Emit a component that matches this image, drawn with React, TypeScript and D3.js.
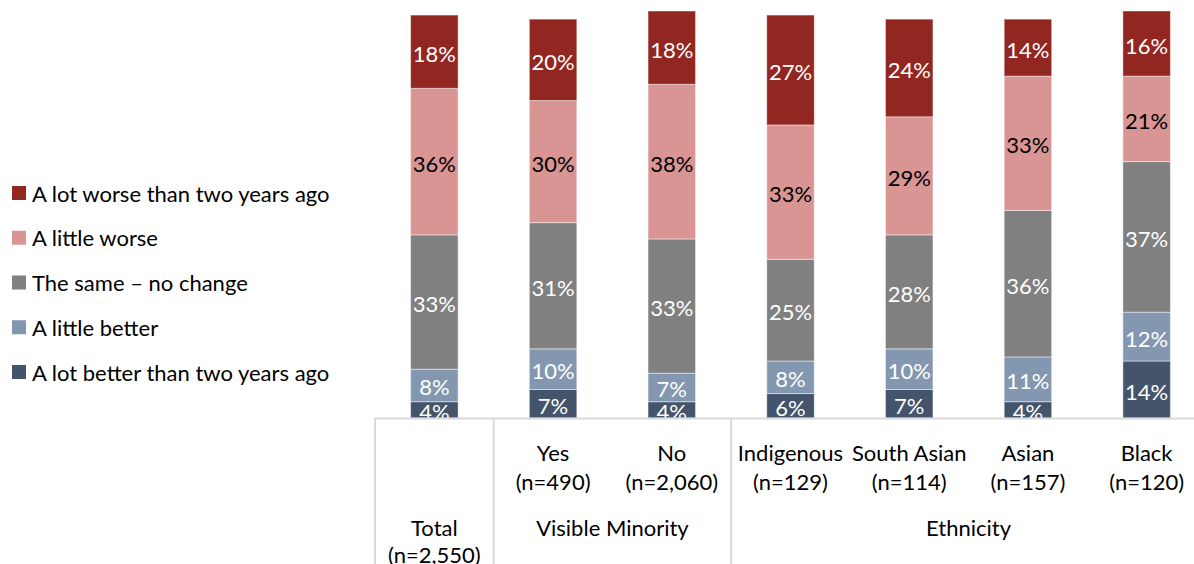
import React from "react";
import * as d3 from "d3";

const categories = ["Total", "Yes", "No", "Indigenous", "South Asian", "Asian", "Black"];
const topLabels = ["", "Yes", "No", "Indigenous", "South Asian", "Asian", "Black"];
const sampleSizes = ["(n=2,550)", "(n=490)", "(n=2,060)", "(n=129)", "(n=114)", "(n=157)", "(n=120)"];
const groupNames = ["Total", "Visible Minority", "Ethnicity"];
const groupStarts = [0, 1, 3];
const groupEnds = [0, 2, 6];

const seriesNames = [
  "A lot better than two years ago",
  "A little better",
  "The same \u2013 no change",
  "A little worse",
  "A lot worse than two years ago",
];
const aLotBetter = [4, 7, 4, 6, 7, 4, 14];
const aLittleBetter = [8, 10, 7, 8, 10, 11, 12];
const theSame = [33, 31, 33, 25, 28, 36, 37];
const aLittleWorse = [36, 30, 38, 33, 29, 33, 21];
const aLotWorse = [18, 20, 18, 27, 24, 14, 16];
const seriesValues = [aLotBetter, aLittleBetter, theSame, aLittleWorse, aLotWorse];
const colors = ["#44546a", "#8497b0", "#808080", "#d99594", "#922620"];
const labelColors = ["#fff", "#fff", "#fff", "#000", "#fff"];

const FONT = "Lato, 'Open Sans', sans-serif";
const FS = 22;

export default function App() {
  const W = 1194;
  const H = 564;
  const axisY = 418;
  const x = d3.scaleBand<string>().domain(categories).range([375, 1206]).padding(0);
  const y = d3.scaleLinear().domain([0, 100]).range([axisY, 11]);
  const barW = x.bandwidth() * 0.4;

  const rows = categories.map((c, i) => {
    const vals = seriesValues.map((s) => s[i]);
    const stack = d3.cumsum(vals);
    return vals.map((v, k) => ({ v, y0: stack[k] - v, y1: stack[k], k }));
  });

  const sepXs = [375, ...groupEnds.map((e) => (x(categories[e]) as number) + x.step())];

  const legendOrder = [4, 3, 2, 1, 0];
  const legendY = d3.scaleLinear().domain([0, 4]).range([193, 372]);

  return (
    <svg
      width={W}
      height={H}
      style={{ position: "absolute", left: 0, top: 0, fontFamily: FONT }}
    >
      <defs>
        <clipPath id="plotClip">
          <rect x={0} y={0} width={W} height={axisY} />
        </clipPath>
      </defs>
      <g clipPath="url(#plotClip)">
        {rows.map((segs, i) => {
          const cx = (x(categories[i]) as number) + x.bandwidth() / 2;
          return (
            <g key={categories[i]}>
              {segs.map((s) => (
                <rect
                  key={s.k}
                  x={cx - barW / 2}
                  y={y(s.y1)}
                  width={barW}
                  height={y(s.y0) - y(s.y1)}
                  fill={colors[s.k]}
                  stroke="#ffffff"
                  strokeOpacity={0.45}
                  strokeWidth={1}
                />
              ))}
              {segs.map((s) => (
                <text
                  key={"t" + s.k}
                  x={cx}
                  y={(y(s.y0) + y(s.y1)) / 2 + 1.5}
                  textAnchor="middle"
                  dominantBaseline="central"
                  fontSize={FS}
                  fill={labelColors[s.k]}
                >
                  {s.v + "%"}
                </text>
              ))}
            </g>
          );
        })}
      </g>
      <line x1={375} x2={W} y1={axisY + 0.5} y2={axisY + 0.5} stroke="#d9d9d9" strokeWidth={2} />
      {sepXs.map((sx, i) => (
        <line key={i} x1={sx} x2={sx} y1={axisY} y2={H} stroke="#d9d9d9" strokeWidth={2} />
      ))}
      {categories.map((c, i) => {
        const cx = (x(c) as number) + x.bandwidth() / 2;
        if (!topLabels[i]) return null;
        return (
          <g key={"cl" + i} fontSize={FS} fill="#000" textAnchor="middle">
            <text x={cx} y={452} dominantBaseline="central">{topLabels[i]}</text>
            <text x={cx} y={481} dominantBaseline="central">{sampleSizes[i]}</text>
          </g>
        );
      })}
      {groupNames.map((g, gi) => {
        const x0 = x(categories[groupStarts[gi]]) as number;
        const x1 = (x(categories[groupEnds[gi]]) as number) + x.step();
        const cx = (x0 + x1) / 2;
        return (
          <g key={"g" + gi} fontSize={FS} fill="#000" textAnchor="middle">
            <text x={cx} y={527} dominantBaseline="central">{g}</text>
            {groupStarts[gi] === groupEnds[gi] && !topLabels[groupStarts[gi]] ? (
              <text x={cx} y={554} dominantBaseline="central">{sampleSizes[groupStarts[gi]]}</text>
            ) : null}
          </g>
        );
      })}
      {legendOrder.map((k, j) => (
        <g key={"lg" + k} transform={`translate(12, ${legendY(j)})`}>
          <rect x={0} y={-7} width={14} height={14} fill={colors[k]} />
          <text x={20} y={0} dominantBaseline="central" fontSize={FS} fill="#000">
            {seriesNames[k]}
          </text>
        </g>
      ))}
    </svg>
  );
}
